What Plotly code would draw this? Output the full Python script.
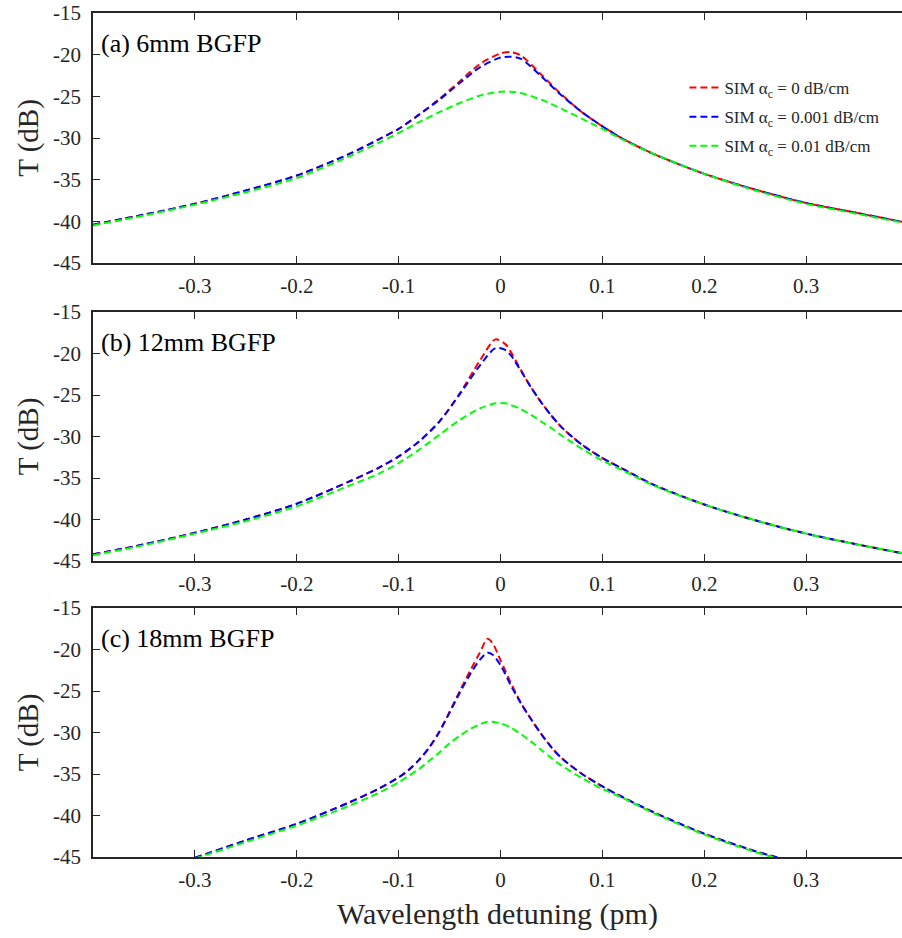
import plotly.graph_objects as go

# ---------------- data ----------------
x_a = [-0.4, -0.35, -0.3, -0.25, -0.2, -0.15, -0.12, -0.1, -0.08, -0.06, -0.04, -0.02, 0.0, 0.01, 0.02,
       0.04, 0.06, 0.08, 0.1, 0.12, 0.15, 0.2, 0.25, 0.3, 0.35, 0.4]
red_a = [-40.4, -39.2, -37.9, -36.3, -34.5, -32.0, -30.2, -28.9, -27.2, -25.3, -23.2, -21.1, -19.85, -19.7, -20.1,
         -22.4, -24.8, -26.9, -28.6, -30.1, -31.9, -34.3, -36.2, -37.8, -39.0, -40.2]
blue_a = [-40.4, -39.2, -37.9, -36.3, -34.5, -32.0, -30.2, -28.9, -27.2, -25.4, -23.4, -21.5, -20.35, -20.25, -20.5,
          -22.6, -24.9, -26.9, -28.6, -30.1, -31.9, -34.3, -36.2, -37.8, -39.0, -40.2]
green_a = [-40.5, -39.3, -38.0, -36.5, -34.8, -32.3, -30.6, -29.4, -28.1, -26.9, -25.8, -24.9, -24.45, -24.45, -24.6,
           -25.4, -26.5, -27.7, -28.9, -30.2, -31.9, -34.3, -36.3, -37.9, -39.1, -40.3]

x_b = [-0.4, -0.35, -0.3, -0.25, -0.2, -0.15, -0.12, -0.1, -0.08, -0.06, -0.04, -0.02, -0.005, 0.005, 0.01, 0.02,
       0.03, 0.04, 0.05, 0.06, 0.07, 0.08, 0.1, 0.12, 0.15, 0.2, 0.25, 0.3, 0.35, 0.4]
red_b = [-44.2, -43.0, -41.6, -40.0, -38.1, -35.5, -33.8, -32.4, -30.6, -28.2, -24.8, -20.8, -18.3, -18.9, -19.8, -22.0,
         -24.1, -25.9, -27.5, -28.9, -30.0, -31.0, -32.6, -33.9, -35.8, -38.2, -40.1, -41.7, -43.0, -44.2]
blue_b = [-44.2, -43.0, -41.6, -40.0, -38.1, -35.5, -33.8, -32.4, -30.6, -28.2, -24.9, -21.4, -19.35, -19.6, -20.2, -22.1,
          -24.1, -25.9, -27.5, -28.9, -30.0, -31.0, -32.6, -33.9, -35.8, -38.2, -40.1, -41.7, -43.0, -44.2]
green_b = [-44.3, -43.1, -41.7, -40.2, -38.4, -36.0, -34.5, -33.2, -31.6, -29.8, -28.0, -26.6, -26.0, -26.0, -26.2, -26.7,
           -27.4, -28.2, -29.0, -29.9, -30.7, -31.5, -32.9, -34.1, -35.9, -38.2, -40.1, -41.7, -43.0, -44.2]

x_c = [-0.32, -0.3, -0.25, -0.2, -0.15, -0.12, -0.1, -0.09, -0.08, -0.07, -0.06, -0.05, -0.04, -0.03, -0.02, -0.013,
       -0.008, 0.0, 0.01, 0.02, 0.03, 0.04, 0.05, 0.06, 0.08, 0.1, 0.12, 0.15, 0.2, 0.25, 0.27, 0.3]
red_c = [-46.0, -45.1, -43.0, -41.0, -38.5, -36.8, -35.4, -34.5, -33.3, -31.8, -29.9, -27.5, -25.0, -22.6, -20.3, -18.7,
         -19.2, -21.3, -24.0, -26.4, -28.4, -30.2, -31.8, -33.1, -35.0, -36.5, -37.8, -39.6, -42.2, -44.3, -45.0, -46.0]
blue_c = [-46.0, -45.1, -43.0, -41.0, -38.5, -36.8, -35.4, -34.5, -33.3, -31.8, -29.9, -27.6, -25.2, -23.0, -21.2, -20.4,
          -20.6, -21.9, -24.3, -26.5, -28.4, -30.2, -31.8, -33.1, -35.0, -36.5, -37.8, -39.6, -42.2, -44.3, -45.0, -46.0]
green_c = [-46.1, -45.2, -43.2, -41.2, -38.9, -37.3, -36.0, -35.2, -34.4, -33.4, -32.4, -31.3, -30.4, -29.6, -29.0, -28.7,
           -28.7, -28.9, -29.4, -30.2, -31.1, -32.1, -33.1, -34.0, -35.5, -36.8, -37.9, -39.7, -42.3, -44.4, -45.1, -46.1]

series_names = ["SIM α<sub>c</sub> = 0 dB/cm", "SIM α<sub>c</sub> = 0.001 dB/cm", "SIM α<sub>c</sub> = 0.01 dB/cm"]
series_colors = ["#ff0000", "#0000ff", "#00ff00"]
panel_titles = ["(a) 6mm BGFP", "(b) 12mm BGFP", "(c) 18mm BGFP"]

x_tickvals = [-0.3, -0.2, -0.1, 0, 0.1, 0.2, 0.3]
x_ticktext = ["-0.3", "-0.2", "-0.1", "0", "0.1", "0.2", "0.3"]
y_tickvals = [-45, -40, -35, -30, -25, -20, -15]
y_ticktext = ["-45", "-40", "-35", "-30", "-25", "-20", "-15"]

panels = [
    (x_a, [red_a, blue_a, green_a]),
    (x_b, [red_b, blue_b, green_b]),
    (x_c, [red_c, blue_c, green_c]),
]

FONT = "Liberation Serif"
AXC = "#262626"

fig = go.Figure()
for p, (xs, ys_list) in enumerate(panels):
    for s, ys in enumerate(ys_list):
        fig.add_trace(go.Scatter(
            x=xs, y=ys, mode="lines",
            name=series_names[s],
            legendgroup="g%d" % s,
            showlegend=(p == 0),
            line=dict(color=series_colors[s], width=2, dash="7px,4px", shape="spline", smoothing=0.8),
            xaxis="x" if p == 0 else "x%d" % (p + 1),
            yaxis="y" if p == 0 else "y%d" % (p + 1),
        ))

W, H = 902, 938
ml, mr, mt, mb = 93, 0, 13, 81
ph = H - mt - mb
boxes = [(13, 263), (312, 561), (608, 857)]

layout = dict(
    width=W, height=H,
    margin=dict(l=ml, r=mr, t=mt, b=mb, pad=0),
    paper_bgcolor="white", plot_bgcolor="white",
    font=dict(family=FONT, size=21, color=AXC),
    legend=dict(x=0.731, y=(H - mb - 70) / ph, xanchor="left", yanchor="top",
                bgcolor="rgba(0,0,0,0)", font=dict(family=FONT, size=17, color=AXC),
                tracegroupgap=4, itemwidth=30),
    showlegend=True,
)

for p, (top, bot) in enumerate(boxes):
    d0 = (H - mb - bot) / ph
    d1 = (H - mb - top) / ph
    xk = "xaxis" if p == 0 else "xaxis%d" % (p + 1)
    yk = "yaxis" if p == 0 else "yaxis%d" % (p + 1)
    ya = "y" if p == 0 else "y%d" % (p + 1)
    xa = "x" if p == 0 else "x%d" % (p + 1)
    layout[xk] = dict(
        domain=[0, 1], anchor=ya, range=[-0.4, 0.394],
        tickvals=x_tickvals, ticktext=x_ticktext,
        ticks="inside", ticklen=7, tickwidth=1.3, tickcolor=AXC,
        showline=True, linecolor=AXC, linewidth=1.6, mirror="ticks",
        showgrid=False, zeroline=False, ticklabelstandoff=3,
        tickfont=dict(family=FONT, size=21, color=AXC),
    )
    layout[yk] = dict(
        domain=[d0, d1], anchor=xa, range=[-45, -15],
        tickvals=y_tickvals, ticktext=y_ticktext,
        ticks="inside", ticklen=7, tickwidth=1.3, tickcolor=AXC,
        showline=True, linecolor=AXC, linewidth=1.6, mirror=False,
        showgrid=False, zeroline=False, ticklabelstandoff=6,
        tickfont=dict(family=FONT, size=21, color=AXC),
        title=dict(text="T (dB)", font=dict(family=FONT, size=29, color=AXC), standoff=6),
    )

layout["xaxis3"]["title"] = dict(text="Wavelength detuning (pm)",
                                 font=dict(family=FONT, size=30, color=AXC), standoff=12)

fig.update_layout(**layout)

for p, (top, bot) in enumerate(boxes):
    xa = "x" if p == 0 else "x%d" % (p + 1)
    ya = "y" if p == 0 else "y%d" % (p + 1)
    fig.add_annotation(
        text=panel_titles[p], xref=xa + " domain", yref=ya + " domain",
        x=0.008, y=(bot - (top + 30)) / (bot - top),
        xanchor="left", yanchor="middle", showarrow=False,
        font=dict(family=FONT, size=26, color="black"),
    )

fig.write_html("out.html")
